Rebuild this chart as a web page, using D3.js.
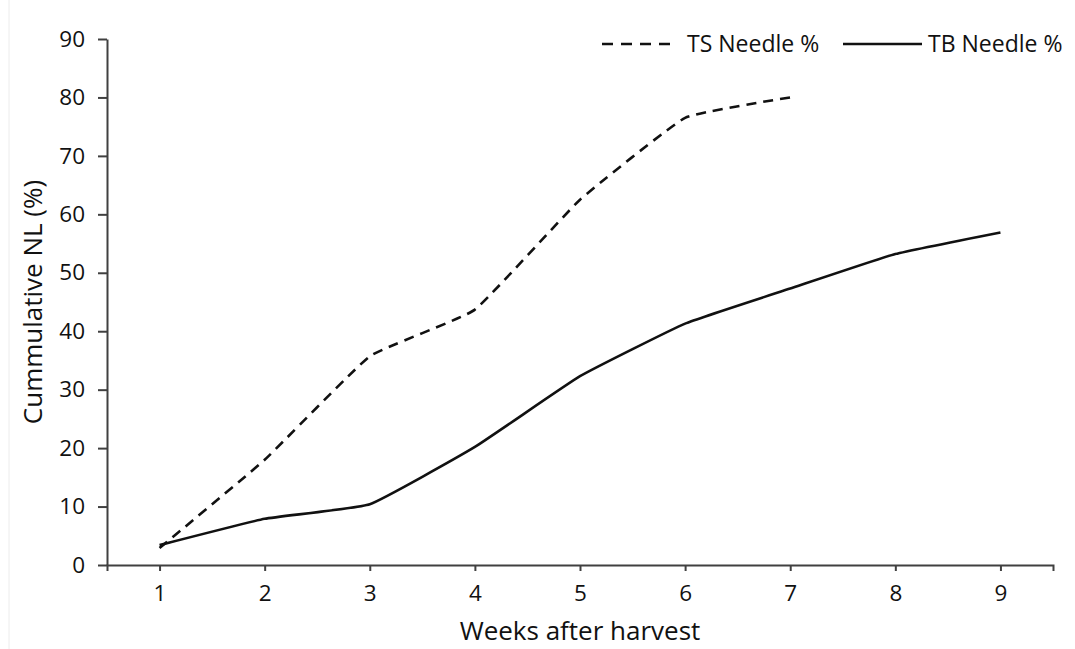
<!DOCTYPE html>
<html>
<head>
<meta charset="utf-8">
<script src="https://cdn.jsdelivr.net/npm/d3@7"></script>
<style>
  html, body { margin: 0; padding: 0; background: #fff; }
  svg { display: block; }
  text { font-family: "Open Sans", "Noto Sans", sans-serif; fill: #111; font-weight: 500; }
</style>
</head>
<body>
<svg id="chart" width="1075" height="649"></svg>
<script>
// Weeks after harvest (category positions)
const weeks = [1, 2, 3, 4, 5, 6, 7, 8, 9];
// Cumulative needle loss (%)
const tsNeedle = [2.9, 18.0, 35.7, 43.7, 62.5, 76.5, 80.0];
const tbNeedle = [3.4, 7.9, 10.4, 20.2, 32.3, 41.3, 47.3, 53.2, 56.9];
const yTicks = [0, 10, 20, 30, 40, 50, 60, 70, 80, 90];
const seriesNames = ["TS Needle %", "TB Needle %"];

const svg = d3.select("#chart");
const W = 1075, H = 649;
const margin = { left: 107, right: W - 1053, top: 39, bottom: H - 565 };
const axisColor = "#404040";
const tickFont = 22.5;

// faint frame edge on the left
svg.append("line")
  .attr("x1", 9).attr("x2", 9).attr("y1", 0).attr("y2", H)
  .attr("stroke", "#ececec").attr("stroke-width", 1);

const x = d3.scaleLinear().domain([0.5, 9.5]).range([margin.left, W - margin.right]);
const y = d3.scaleLinear().domain([0, 90]).range([H - margin.bottom, margin.top]);

// y axis
const yAxis = svg.append("g")
  .attr("transform", `translate(${margin.left},0)`)
  .call(d3.axisLeft(y).tickValues(yTicks).tickSize(9).tickSizeOuter(0).tickPadding(13));
yAxis.select(".domain").attr("stroke", axisColor).attr("stroke-width", 2);
yAxis.selectAll(".tick line").attr("stroke", axisColor).attr("stroke-width", 2);
yAxis.selectAll("text").attr("font-size", tickFont).attr("fill", "#111")
  .attr("font-family", "'Open Sans', sans-serif");

// x axis
const xAxis = svg.append("g")
  .attr("transform", `translate(0,${H - margin.bottom})`)
  .call(d3.axisBottom(x).tickValues(weeks).tickFormat(d3.format("d")).tickSize(6).tickSizeOuter(6).tickPadding(14));
xAxis.select(".domain").attr("stroke", axisColor).attr("stroke-width", 2);
xAxis.selectAll(".tick line").attr("stroke", axisColor).attr("stroke-width", 2);
xAxis.selectAll("text").attr("font-size", tickFont).attr("fill", "#111")
  .attr("font-family", "'Open Sans', sans-serif");

// axis titles
svg.append("text")
  .attr("x", (margin.left + W - margin.right) / 2)
  .attr("y", 640)
  .attr("text-anchor", "middle")
  .attr("font-size", 26)
  .text("Weeks after harvest");

svg.append("text")
  .attr("transform", `translate(42,${(margin.top + H - margin.bottom) / 2}) rotate(-90)`)
  .attr("text-anchor", "middle")
  .attr("font-size", 26)
  .text("Cummulative NL (%)");

// series lines, lightly smoothed
const line = d3.line()
  .x((d, i) => x(weeks[i]))
  .y(d => y(d))
  .curve(d3.curveCardinal.tension(0.65));

svg.append("path")
  .datum(tsNeedle)
  .attr("d", line)
  .attr("fill", "none")
  .attr("stroke", "#111")
  .attr("stroke-width", 2.6)
  .attr("stroke-dasharray", "10,7");

svg.append("path")
  .datum(tbNeedle)
  .attr("d", line)
  .attr("fill", "none")
  .attr("stroke", "#111")
  .attr("stroke-width", 2.6);

// legend
const legend = svg.append("g");
legend.append("line")
  .attr("x1", 602).attr("x2", 672).attr("y1", 44).attr("y2", 44)
  .attr("stroke", "#111").attr("stroke-width", 2.6).attr("stroke-dasharray", "11,8");
legend.append("text")
  .attr("x", 687).attr("y", 52).attr("font-size", 23).text(seriesNames[0]);
legend.append("line")
  .attr("x1", 843).attr("x2", 922).attr("y1", 44).attr("y2", 44)
  .attr("stroke", "#111").attr("stroke-width", 2.6);
legend.append("text")
  .attr("x", 928).attr("y", 52).attr("font-size", 23).text(seriesNames[1]);
</script>
</body>
</html>
